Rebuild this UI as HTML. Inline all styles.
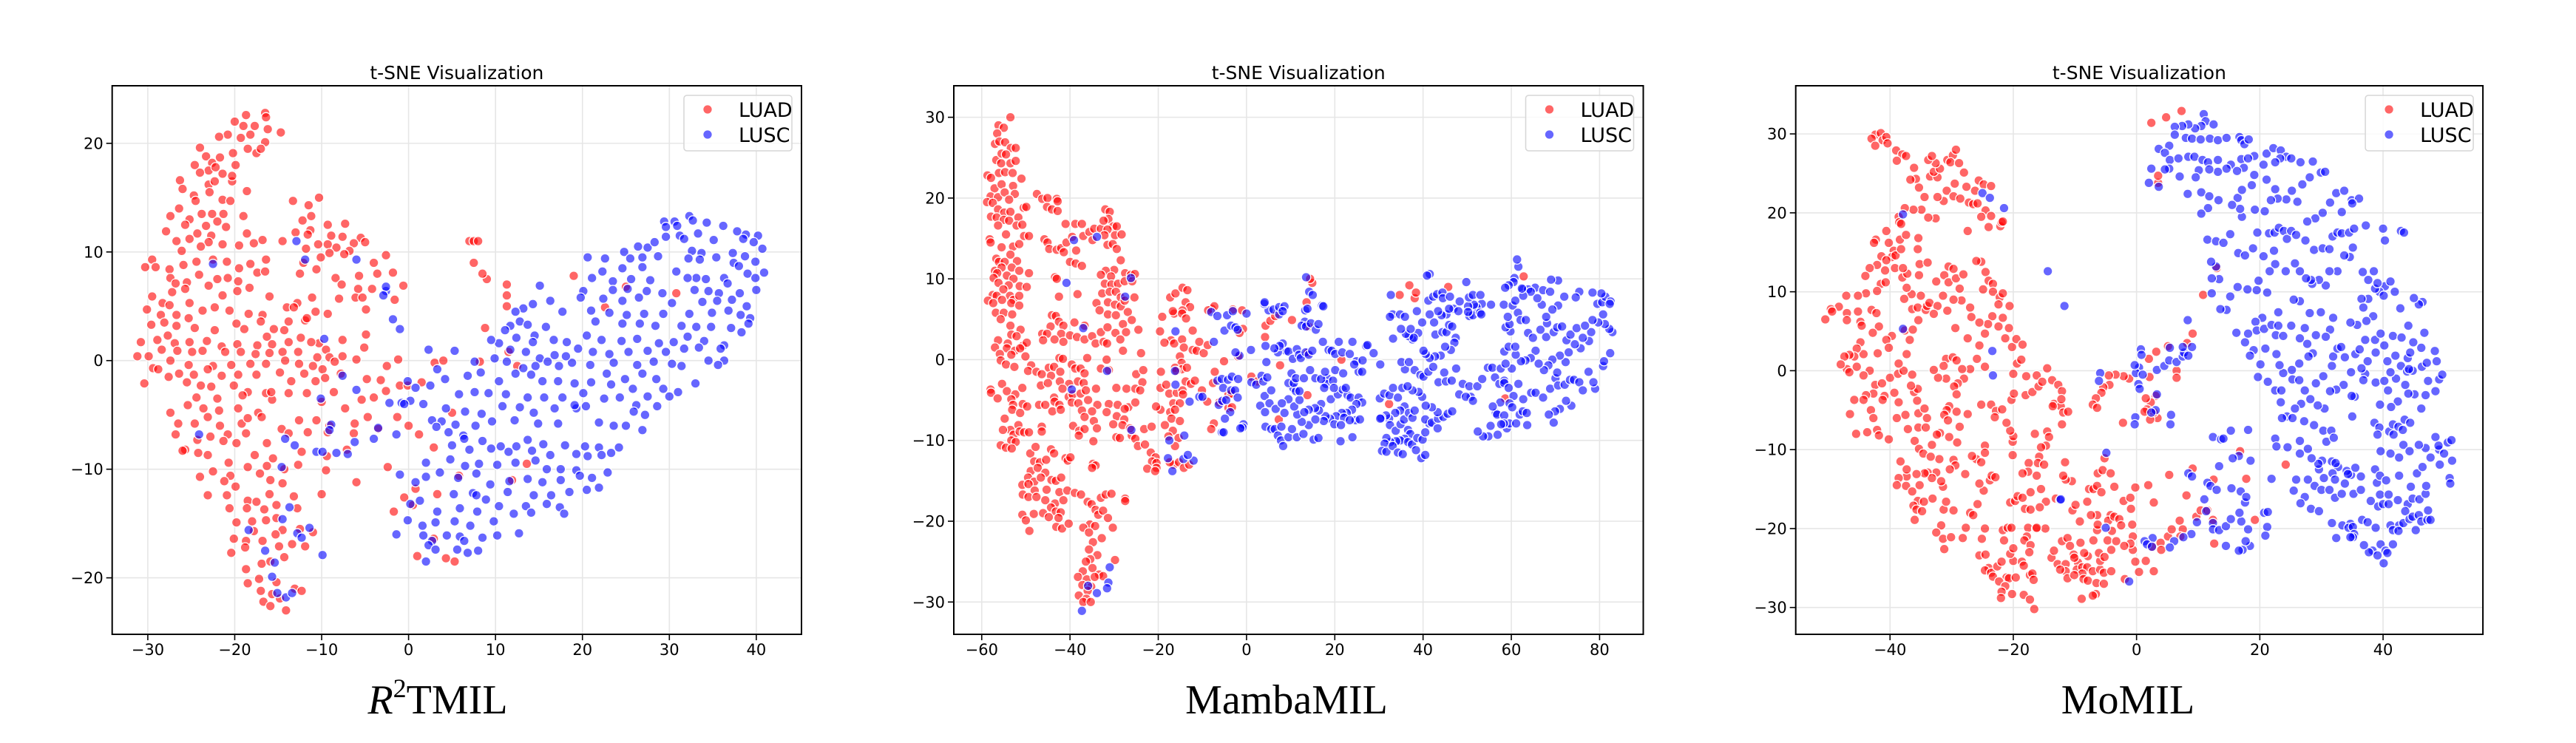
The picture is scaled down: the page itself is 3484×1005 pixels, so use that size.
<!DOCTYPE html>
<html><head><meta charset="utf-8"><style>
html,body{margin:0;padding:0;background:#fff;}
svg{display:block;}
</style></head><body>
<svg id="fig" xmlns="http://www.w3.org/2000/svg" width="3484" height="1005" viewBox="0 0 3484 1005">
<rect x="0" y="0" width="3484" height="1005" fill="#fff"/>
<text x="592" y="965" text-anchor="middle" font-family="Liberation Serif, serif" font-size="56"><tspan font-style="italic">R</tspan><tspan dy="-22" font-size="36">2</tspan><tspan dy="22">TMIL</tspan></text>
<text x="1740" y="965" text-anchor="middle" font-family="Liberation Serif, serif" font-size="56">MambaMIL</text>
<text x="2878" y="965" text-anchor="middle" font-family="Liberation Serif, serif" font-size="56">MoMIL</text>
</svg>
<script>
// ---- Panel 1 (R2TMIL) data ----
const p1Luad = [[-16.5,22.8],[-16.4,22.4],[-18.7,22.6],[-20,22],[-19,21.6],[-17.7,21.6],[-16.2,21.3],[-14.7,21],[-20.8,20.8],[-21.8,20.6],[-19.3,20.5],[-18.2,20.8],[-16.5,20.1],[-18.5,19.5],[-17.5,19.1],[-17,19.5],[-20.2,19.1],[-24,19.6],[-23.3,18.8],[-22.6,18.2],[-21.7,18.7],[-24.6,18],[-23,17.5],[-21.4,17.2],[-22.2,17.8],[-24,17.3],[-26.3,16.6],[-23,16.2],[-22.3,16.5],[-20.3,16.5],[-20.3,17],[-19.9,18],[-26,15.8],[-24.7,15.2],[-22.9,15.5],[-21.4,14.8],[-24.5,14.7],[-26.4,14],[-20.5,14.7],[-18.6,15.6],[-22.6,13.5],[-21.3,13.5],[-23.8,13.5],[-25.2,13],[-27.4,13.3],[-19,13.3],[-22,12.8],[-23.3,12.4],[-25.7,12.5],[-27.9,11.9],[-24.3,11.7],[-21,12.3],[-22.7,11.5],[-25.2,11.2],[-26.7,11],[-23,10.9],[-21.4,10.7],[-19.5,10.6],[-17.8,10.8],[-18.6,11.7],[-16.8,11.1],[-26.1,10.1],[-23.9,10.5],[-25.9,8.8],[-24.4,9.1],[-22.5,9.3],[-20.9,9.1],[-19.5,8.5],[-18.2,8.9],[-16.4,9.3],[-29.5,9.3],[-30.3,8.6],[-29.1,8.6],[-27.5,8.4],[-24.1,7.9],[-22,7.5],[-20.8,7.6],[-19.6,7.3],[-17.4,8.1],[-16.5,8.2],[-27.4,7.6],[-26.8,7.1],[-25.5,7.2],[-23,6.9],[-27.2,6.3],[-25.7,6.6],[-21.4,6],[-19.7,6.4],[-18.3,6.7],[-16,5.9],[-29.5,5.9],[-28.3,5.3],[-27.5,5.1],[-25.2,5.3],[-23.7,4.6],[-22.3,4.9],[-20.6,4.6],[-18.4,4.3],[-16.8,4.2],[-30.1,4.7],[-28.5,4.2],[-26.7,4.2],[-25.3,3.9],[-19.8,3.4],[-17,3.6],[-29.6,3.3],[-28.1,3.5],[-26.7,3.2],[-24.6,3],[-22.3,2.8],[-18.9,2.9],[-16.3,2.2],[-28.9,1.9],[-27.7,2.3],[-26.9,1.6],[-25.2,1.7],[-23.2,1.8],[-21.5,1.3],[-19.7,1.5],[-17.4,1.4],[-15.7,1.5],[-30.8,1.7],[-28.4,1],[-26.6,0.9],[-24.9,0.8],[-23.7,0.9],[-21.1,0.8],[-19.3,0.8],[-17.6,0.6],[-16,0.7],[-31.2,0.4],[-29.9,0.4],[-27.4,0],[-25.3,-0.4],[-22.5,-0.5],[-20.4,-0.4],[-18.2,-0.3],[-16.4,-0.3],[-29.4,-0.7],[-28.8,-0.8],[-26.4,-1.2],[-24.7,-1.3],[-23.1,-0.8],[-21.5,-1.4],[-19.6,-1.3],[-17.5,-1.3],[-27.6,-1.5],[-30.4,-2.1],[-25.5,-2],[-23.9,-2.3],[-22.7,-2.4],[-20.1,-2.3],[-18.5,-2.9],[-16.4,-3],[-24.4,-3.4],[-22,-3.5],[-19.1,-3.2],[-13.3,14.7],[-10.3,15],[-11.5,14.3],[-11.2,13.3],[-12.2,12.9],[-9.3,12.5],[-7.3,12.6],[-11.3,12],[-13,11.8],[-8.9,11.5],[-11.6,11.6],[-7.6,11.4],[-5.5,11.3],[-14.5,11],[-10.4,10.7],[-9.3,10.7],[-6.3,10.8],[-5,10.9],[-11.8,10.3],[-8.3,10.4],[-6.8,10.1],[-7.4,9.8],[-9.1,9.9],[-12.1,9],[-10.1,9.5],[-4,9],[-2.6,9.7],[-12.5,8],[-10.6,8.4],[-8.4,7.6],[-5.7,7.8],[-3.6,8],[-1.8,8.1],[-0.6,6.9],[-7.7,7],[-5.8,6.6],[-4.2,6.6],[-6.1,5.8],[-5.3,5.8],[-11.1,5.8],[-8,5.7],[-12.8,5.3],[-1.6,5.6],[-10.7,4.5],[-14,4.9],[-13.2,4.9],[-4.9,4.7],[-9.3,4.3],[-11.9,3.7],[-13.8,3.6],[-15.5,2.9],[-11.7,3.9],[-14.3,2.8],[-12.4,2.1],[-10.3,1.6],[-7.6,1.9],[-4.9,2.4],[-13.8,1.7],[-11.2,1.7],[-9.5,1],[-5.1,1.2],[-14.5,0.8],[-12.7,0.8],[-10.5,0.3],[-9.1,0.3],[-7.6,0.4],[-6,0.1],[-14.2,0],[-12.6,-0.3],[-11,-0.5],[-9.9,-0.8],[-8.5,-0.1],[-14.8,-1.1],[-12,-1.2],[-9.6,-1.6],[-7.8,-1.2],[-10.7,-1.9],[-8.6,-2.9],[-13.5,-1.9],[-4.8,-1.7],[-3.2,-1.8],[-2.5,-0.5],[-1.2,0.1],[-2.6,-2.8],[-1,-2.3],[-27.4,-4.8],[-25.4,-4.1],[-23.6,-4.4],[-21.8,-4.6],[-19.6,-4.4],[-17.3,-4.8],[-15.7,-3.6],[-15.8,-2.9],[-13.8,-3],[-11.7,-3],[-10,-3.8],[-7.3,-4.4],[-5.4,-3.6],[-4,-3.4],[-26.5,-5.8],[-24.6,-5.8],[-23.1,-5.2],[-21.7,-6],[-19.2,-5.8],[-18.5,-5.3],[-16.9,-5.2],[-14.6,-6.3],[-12.6,-5.5],[-10.6,-5.5],[-9.1,-6],[-6.2,-5.8],[-4.7,-5.2],[-26.8,-6.8],[-24.3,-7.3],[-22.8,-7],[-20.8,-6.8],[-18.7,-6.7],[-16.3,-7.6],[-13.8,-6.7],[-11.6,-6.6],[-9.3,-6.6],[-6.3,-6.7],[-3.5,-6.3],[-25.7,-8.2],[-24.2,-8.5],[-21.3,-7.4],[-19.8,-7.6],[-17.7,-8.7],[-15.6,-9],[-12.3,-8.4],[-9.4,-8.8],[-7.1,-8.2],[-26,-8.3],[-23.1,-8.7],[-20.7,-9.4],[-18.5,-9.8],[-16.3,-9.7],[-14.3,-10],[-12.7,-9.6],[-9.5,-10.1],[-2.4,-9.8],[-24,-10.7],[-22.5,-10.2],[-20.5,-10.6],[-17.1,-10.4],[-15.9,-11],[-14.5,-11.3],[-21.2,-11.1],[-19.9,-11.6],[-16,-12.3],[-13.2,-12.5],[-10,-12.3],[-6,-11.2],[-23.1,-12.4],[-20.9,-12.4],[-18.5,-12.9],[-17.5,-13],[-15.2,-13.3],[-20.6,-13.6],[-18.6,-13.6],[-16.6,-13.7],[-12.8,-13.6],[-15.2,-14.5],[-19.8,-14.9],[-18,-14.8],[-16.4,-14.7],[-14.5,-15.6],[-20.1,-16.4],[-18.7,-16.6],[-17.8,-15.7],[-15.3,-16],[-12.5,-15.5],[-11,-15.8],[-20.4,-17.7],[-18.8,-17.2],[-16.8,-16.6],[-13.4,-16.9],[-14.9,-17.1],[-11.9,-17.1],[-18.7,-19.2],[-16.9,-18.7],[-15.9,-18.5],[-14.3,-18.1],[-17.2,-20.1],[-15.2,-20.4],[-18.5,-20.5],[-17,-21.2],[-15.7,-21.5],[-13.1,-21],[-12.3,-21.2],[-16.7,-22.2],[-15.9,-22.6],[-14.8,-21.9],[-14.1,-23],[7,11],[7.5,11],[8,11],[7.5,9],[9,7.5],[8.5,8],[11.3,7],[11.3,6],[11.3,5],[8.8,3],[11.5,0.8],[8.2,-0.1],[12.5,-0.5],[19,7.8],[22.6,4.9],[25,6.8],[30.8,6.2],[3,-0.2],[4,0],[-0.1,-2.3],[1.2,-6.8],[2.9,-8],[5,-4.8],[13.6,-9.5],[11.9,-11],[3.3,-12.3],[-1.7,-13.9],[-0.5,-12.6],[0.8,-11.8],[0.5,-13.3],[2.9,-16.4],[1,-18],[4.3,-18.2],[5.3,-18.5],[5.8,-10.6],[0,-6],[-1.3,-5.2],[1.5,-2]];
const p1Lusc = [[32.3,13.3],[32.7,12.9],[29.4,12.8],[30.6,12.8],[30.9,12.4],[29.6,12.3],[34.3,12.7],[36.2,12.4],[37.8,11.9],[38.8,11.6],[40.2,11.5],[29.6,11.4],[31.2,11.5],[33.3,11.7],[35.1,11.1],[38.5,11.2],[27.5,10.4],[26.4,10.5],[24.8,10],[28.3,10.9],[31.7,11.2],[32.6,10.1],[33.7,9.9],[37.3,9.9],[39.7,10.9],[40.7,10.3],[25.5,9.4],[22.6,9.4],[20.6,9.5],[26.9,9.5],[28.7,9.6],[32.2,9.4],[33.5,9.3],[35.4,9.5],[38.7,9.6],[39.9,9.1],[37.4,9],[26.9,8.6],[24.6,8.5],[22.3,8.2],[30.8,8.2],[33.1,7.6],[36.3,7.6],[38,8.7],[39,8],[40.9,8.1],[21.1,7.6],[23.5,7.3],[25.6,7.5],[27.8,7.4],[32.1,7.6],[34.2,7.5],[36.7,7.1],[39.9,7.6],[20.1,6.4],[23.5,6.5],[25.2,6.6],[27.4,6.4],[29.2,6.2],[32.9,6.5],[34.5,6.4],[35.7,6.2],[38.1,6.2],[40,6.5],[19.8,5.8],[22.4,5.7],[24.6,5.5],[26.5,5.8],[30.3,5.3],[33.8,5.4],[35.5,5.5],[37.2,5.6],[38.9,5],[21,4.6],[23.1,4.4],[25.1,4.2],[27.1,4.3],[29.3,4.3],[32.3,4.3],[34.9,4.4],[36.8,4.6],[38.2,4.2],[39.3,3.9],[21.5,3.6],[24.6,3.4],[26.6,3.4],[28.4,3.2],[31.4,3.2],[33.1,3.1],[34.8,3.1],[37.1,3],[39.1,3.4],[20.5,2.3],[22.2,1.9],[24.5,1.8],[26.3,2],[28.8,1.6],[30.5,1.7],[32.1,2.2],[34,1.8],[36.3,1.4],[38.3,2.6],[19.5,1.1],[21.2,0.8],[23.1,0.6],[25.3,0.8],[27.5,0.9],[29.6,0.8],[31.7,1.1],[33.4,1.2],[35.9,1.1],[18.8,-0.2],[20.9,-0.4],[23.6,-0.2],[26.3,-0.4],[28.2,-0.1],[30.3,-0.3],[31.4,-0.5],[34.5,0],[36.3,0],[22.8,-1.2],[24.9,-1.7],[26.9,-1.2],[28.5,-1.7],[29.3,-2.6],[31,-2.9],[33,-2.1],[35.6,-0.4],[21,-2],[23.3,-2.2],[25.8,-2.6],[27.5,-3.3],[30,-3.3],[20.1,-3],[22.5,-3.5],[24.3,-3.4],[26.2,-4.1],[28.6,-4.2],[19.3,-4.4],[20.4,-4.2],[25.9,-4.7],[27.2,-5],[23.6,-6],[21.9,-5.7],[25,-6],[26.9,-6.4],[16.3,5.5],[17.7,4.5],[15.1,6.9],[13.2,4.8],[12.3,4.5],[14.3,5.2],[12.8,3.6],[11.7,3.2],[13.7,3.3],[15.8,3.1],[11.1,2.8],[10.4,1.6],[12.4,2.1],[14.5,2.3],[16.7,1.9],[18.2,1.7],[9.5,1.9],[11.7,1],[13.5,0.8],[14.3,1.7],[15.1,0.2],[16.8,0.5],[18.1,0.4],[9.9,0.2],[11.3,-0.1],[13.2,-0.7],[14.6,-0.5],[16,-0.1],[17.3,-0.5],[7.6,-0.1],[5.3,0.9],[2.3,1],[3.3,-0.8],[6.8,-1.4],[8.3,-1.1],[10.4,-1.9],[12.3,-1.2],[14.1,-1.3],[15.4,-1.9],[17.2,-1.9],[19.1,-2.1],[0.8,-2.5],[2.5,-2.3],[4.2,-1.7],[5.8,-3.1],[7.6,-2.9],[9.2,-3],[11.2,-3.1],[13.7,-3.4],[15.6,-3.4],[17.7,-3.4],[-0.8,-3.9],[0.2,-3.7],[1.7,-4],[4.3,-4.4],[6.5,-4.7],[8.4,-4.9],[10.8,-4.2],[12.8,-4.3],[14.4,-4.8],[16.8,-4.4],[19.1,-4.1],[2.7,-5.5],[3.8,-5.6],[5.4,-5.9],[7.7,-6],[9.6,-5.6],[12.2,-5.5],[14.9,-5.8],[17.2,-5.8],[3.2,-6.1],[4.6,-6.6],[6.3,-6.9],[8.5,-7.4],[10.6,-7.9],[12.4,-7.9],[13.7,-7.3],[15.5,-7.7],[18,-7.8],[20.3,-7.9],[21.9,-8],[23.3,-8.5],[5,-7.8],[7,-8.2],[9.5,-8.1],[11.5,-8.4],[14.2,-8.3],[16.3,-8.7],[19.3,-8.6],[20.6,-8.8],[22.2,-8.7],[24.2,-8],[2,-9.4],[4.8,-9.1],[6.5,-9.7],[8.1,-9.5],[10.2,-9.6],[12.3,-9.4],[14.6,-9.2],[15.9,-10],[17.5,-10],[19.3,-10.1],[21.1,-10.8],[22.9,-10.3],[3.6,-10.3],[5.7,-10.8],[7.8,-10.4],[9.4,-11.4],[11.6,-11.1],[13.7,-10.9],[15.4,-11.2],[17.5,-11],[19.7,-10.6],[20.5,-11.9],[21.9,-11.7],[-1,-10.5],[0.8,-11.2],[2,-10.7],[5.2,-12.3],[7.4,-12.2],[8.9,-12.8],[11.4,-12.1],[14.4,-12.4],[16.4,-12.4],[18.5,-12.1],[0.2,-13.2],[1.3,-12.9],[3.3,-13.9],[5.9,-13.6],[7.9,-13.9],[10.4,-13.4],[13.5,-13.4],[15.9,-13.2],[17.4,-13.5],[-0.1,-14.7],[1.6,-15.2],[3.1,-14.9],[5.3,-14.8],[7.1,-15.2],[9.8,-14.8],[12.1,-14.1],[14.1,-14],[17.9,-14.1],[-1.4,-16],[1.7,-16.1],[2.7,-16.6],[4.4,-16.1],[5.9,-16.2],[6.4,-16.6],[8.5,-16.3],[10.2,-16.1],[12.7,-15.9],[2.3,-17],[3.1,-17.4],[5.6,-17.4],[6.8,-17.7],[8,-17.5],[2,-18.5],[7.8,-12.4],[6.4,-7.2],[-22.5,8.9],[-12.9,11],[-11.9,9.3],[-6,9.3],[-2.6,6.4],[-2.6,6.8],[-2.9,6],[-1.8,3.8],[-1,2.9],[-9.7,2],[-7.6,-1.4],[-6,-2.7],[-10.1,-3.5],[-8.9,-5.9],[-9.1,-6.4],[-4,-7.2],[-3.5,-6.2],[-1.4,-6.8],[-2.2,-3.9],[-0.5,-4],[-0.1,-1.9],[-14.2,-7.2],[-13.1,-7.8],[-24.1,-6.8],[-7,-8.6],[-6.2,-7.5],[-9.9,-17.9],[-12.8,-15.9],[-14.5,-14.6],[-13.7,-13.5],[-12.3,-16.3],[-11.4,-15.4],[-14.6,-9.8],[-18.4,-15.6],[-16.5,-17.5],[-15.4,-18.6],[-15.7,-19.9],[-15.1,-21.4],[-14.1,-21.8],[-13.4,-21.4],[-10.6,-8.4],[-9.9,-8.4],[-8.3,-8.5]];
const p1XTicks = [-30,-20,-10,0,10,20,30,40];
const p1YTicks = [-20,-10,0,10,20];

// ---- Panel 2 (MambaMIL) data ----
const p2Luad = [[-53.5,30],[-56.2,29],[-55,28.7],[-56.5,28],[-57,26.7],[-56,27],[-54.7,26.9],[-53.4,26.2],[-52.3,26.2],[-56.7,24.7],[-55.5,25.5],[-54.5,25.4],[-53.5,24.3],[-52.3,24.6],[-55.6,24.3],[-58.7,22.8],[-57.9,22.5],[-56.1,23.1],[-54.7,23.2],[-53,23.1],[-51,22.4],[-57.1,21.2],[-55.5,21.7],[-52.9,21.5],[-58,20.2],[-56.3,20.1],[-54.8,20.7],[-52.5,20.5],[-58.8,19.5],[-57.5,19.4],[-53.8,19.8],[-56.3,18.6],[-54.9,18.2],[-53.5,18.3],[-57.9,17.7],[-56.6,17.6],[-55,17.3],[-53.8,17.2],[-51.7,17.6],[-50.5,18.8],[-49.9,18.9],[-56.3,16.6],[-52.1,16.6],[-50.8,16.7],[-54.5,15.5],[-50.4,15.3],[-49.3,15.3],[-58.2,14.9],[-58,14.5],[-55.5,13.9],[-52.9,14],[-51.5,14.3],[-56.7,12.5],[-56.1,12.1],[-54.8,12.1],[-52,12.2],[-53.5,13],[-57,11],[-55.5,11.4],[-53.2,11.4],[-51.5,11],[-49.3,10.7],[-56.5,10.7],[-57.3,10.1],[-54.3,10.4],[-52.8,10],[-51.4,9.1],[-49.8,9],[-56.2,9.5],[-53.9,9.2],[-55.1,8.7],[-57.5,8],[-56.6,7.9],[-53.6,7.9],[-52.8,7.4],[-51.5,7.9],[-58.6,7.3],[-57.4,7],[-55.4,7.4],[-53.3,7],[-51.5,6.7],[-56.8,5.8],[-55,5.8],[-53.1,5.6],[-55.7,5],[-53.5,4.2],[-51.2,3.7],[-53.3,3.1],[-52.1,2.9],[-56.3,2.4],[-54.1,2],[-50.7,1.7],[-49.8,2.1],[-57,1.5],[-54.3,1.4],[-52.5,1.1],[-51.3,1.4],[-55.9,0.7],[-53.3,0.6],[-50.1,0.4],[-55.7,-0.1],[-54.5,-0.6],[-52.6,-0.9],[-48.8,-0.7],[-49.5,-1.4],[-58,-3.7],[-57.9,-4.1],[-55.4,-3],[-54.3,-3.9],[-52.4,-4.3],[-50.8,-3.5],[-56.4,-4.8],[-53.3,-4.9],[-52.9,-5.6],[-50.7,-5.5],[-53.1,-6.2],[-51.3,-6.6],[-49.7,-5.8],[-54.8,-7.3],[-53.5,-8.7],[-51.7,-8.1],[-55.2,-8.7],[-52.8,-9.3],[-51.4,-8.9],[-53.3,-10],[-52.3,-10.2],[-55.7,-10.6],[-54.5,-10.9],[-53.2,-11],[-50.4,-9],[-49.3,-9],[-47.5,20.5],[-46.3,19.9],[-45.1,20],[-43,19.9],[-42.8,19.6],[-45.2,18.9],[-44.1,18.6],[-42.8,18.4],[-38.8,16.8],[-37.3,16.8],[-41,16.8],[-45.8,14.9],[-45.1,14.5],[-44.7,13.7],[-43,13.6],[-42,13.8],[-40.8,14.5],[-39.5,15.2],[-37,15.3],[-35.6,15.8],[-34.5,16.2],[-33,16.2],[-38.6,13.5],[-41.4,13.3],[-40,12.1],[-38.7,11.9],[-37.3,11.6],[-32,18.6],[-31,18.3],[-31.3,17.4],[-30.2,16.5],[-29.4,16.5],[-32.4,17.2],[-31.5,16.1],[-29.8,15.4],[-28.3,15.5],[-31.5,14.2],[-30.3,14.3],[-32.2,15.4],[-34.9,14.8],[-29.4,13.7],[-28.5,12.3],[-30,11.1],[-31.9,11],[-33,10.5],[-30.7,10.3],[-27.5,10.7],[-26.2,10.5],[-25.3,10.6],[-32.1,9.4],[-30.6,9.3],[-29.1,9.4],[-27.6,9.7],[-25.9,9.7],[-32.7,8.2],[-31,8.4],[-29.6,8.4],[-28.5,7.7],[-25.4,7.7],[-43.4,10.2],[-43,10],[-42.5,7.8],[-38.3,8.1],[-31.4,7.1],[-29.8,6.8],[-28.5,6.6],[-27.6,7.3],[-34,7],[-33.3,6.1],[-31.4,5.6],[-29.6,5.5],[-26.9,5.9],[-26,4.9],[-44.1,5.5],[-43.2,5.4],[-42.5,4.7],[-41.5,4.2],[-39,4.6],[-36.7,4.2],[-44.4,4.1],[-46.3,3.2],[-45.2,3.2],[-42,3.2],[-40,3],[-38.4,2.8],[-36.7,2.5],[-35,2.9],[-33,3.4],[-31.5,4],[-29.7,3.3],[-28,4.4],[-27.3,3.4],[-24.5,3.7],[-46.1,2.4],[-43.5,2.5],[-41.5,2.2],[-34.2,2],[-32.4,2.2],[-31.6,2],[-28.6,2.5],[-28,1.1],[-23.9,0.8],[-42.4,0.2],[-41.6,0.1],[-36.1,0.2],[-31.7,0],[-44.8,-1],[-43.6,-0.9],[-42.2,-1.5],[-39.6,-0.6],[-38.8,-1.1],[-37.6,-1.1],[-36.7,-1.7],[-33,-1.1],[-31.2,-1.3],[-47.6,-1.5],[-46.4,-1.8],[-44.3,-2],[-42.3,-2.7],[-40.2,-3],[-38.2,-2.7],[-36.9,-2.9],[-25,-1.8],[-23.4,-1.3],[-46.6,-3.2],[-45,-2.9],[-43.6,-4.7],[-41.7,-3.6],[-40.3,-4.6],[-39.4,-4.3],[-37.6,-4.2],[-36.4,-3.8],[-34.1,-3.6],[-29.5,-3.5],[-27.2,-3.6],[-25.2,-3.6],[-23.6,-2.8],[-24.1,-3.8],[-47,-5.6],[-45.6,-5.6],[-43.5,-5.2],[-42.4,-5.6],[-39.6,-5.3],[-38.1,-5.4],[-35.9,-5],[-33.8,-5.6],[-31.2,-5.5],[-29.2,-5.6],[-26.8,-5.9],[-25.2,-5.3],[-44,-6.4],[-42.1,-6.2],[-37.3,-6.3],[-35,-6.4],[-31.7,-6.5],[-27.6,-6.1],[-29.4,-7],[-27.7,-7.4],[-36.7,-7.1],[-34.6,-7.6],[-46.4,-8.3],[-46.4,-8.9],[-39.3,-8.2],[-37.9,-8.8],[-36.7,-8.6],[-33.9,-8.5],[-30.2,-8],[-28.1,-8.1],[-38,-9.4],[-34.7,-10.1],[-29.5,-9.6],[-28.7,-9.7],[-26,-9.4],[-41,-12.2],[-40.5,-12.5],[-39.9,-12.1],[-34.8,-12.9],[-34.2,-13.1],[-35,-13.4],[-49,-11.6],[-47.8,-10.8],[-44.3,-11.1],[-43.6,-11.6],[-48.1,-12.6],[-46.8,-12.7],[-45.4,-12.4],[-48.9,-13.8],[-47.3,-13.4],[-45.6,-14],[-49.5,-14.6],[-48.1,-15.1],[-46.6,-14.6],[-44.2,-14.9],[-43.2,-15],[-42,-14.6],[-50.8,-15.5],[-49.4,-15.4],[-48,-16.2],[-45.3,-16.1],[-42.4,-16.4],[-40.6,-16.2],[-50.7,-16.7],[-49.4,-17],[-47.6,-17],[-45.6,-17.4],[-43.4,-17.8],[-41.5,-17.4],[-44.3,-18.3],[-43.2,-18.8],[-42.1,-18.9],[-48.2,-19.1],[-46.1,-19],[-44.8,-19.5],[-42.6,-19.6],[-50.8,-19.2],[-50,-19.9],[-49.2,-21.2],[-43.1,-20.7],[-41.8,-20.9],[-40.3,-20.3],[-38.9,-16.5],[-37.5,-16.7],[-36,-17.6],[-35.1,-17.9],[-34.2,-18.6],[-33,-17.1],[-31.9,-16.7],[-30.6,-16.6],[-33.6,-19.2],[-32.5,-18.7],[-31.4,-19.6],[-35.5,-20.4],[-34.3,-20.6],[-37,-20.8],[-35.7,-21.4],[-30.3,-20.8],[-32.8,-22.1],[-34.8,-22.6],[-35.7,-23.5],[-33.8,-24.2],[-35.4,-24.7],[-36.4,-25],[-34.9,-25.8],[-33.4,-26.6],[-32.5,-26.8],[-37.1,-26.2],[-38.2,-26.9],[-36.2,-27.2],[-34.4,-26.9],[-35.2,-28.1],[-37.2,-27.9],[-36,-28.6],[-38,-29.2],[-36.3,-29.6],[-37,-30],[-35.3,-30],[-29.8,-24.8],[-27.5,-17.2],[-27.5,-17.5],[-26.4,-8.5],[-25.2,-9.8],[-23.2,-8.6],[-21.5,-8.3],[-24.6,-10.7],[-23,-10.5],[-21.7,-11.5],[-20.6,-12.1],[-21.4,-12.6],[-20.4,-12.8],[-20.4,-13.4],[-22.5,-13.5],[-20.7,-13.8],[-16.5,-13],[-15.3,-12.7],[-14.2,-13.4],[-13,-13],[-17.4,-12.7],[-19.6,3.5],[-17.1,2.4],[-18.6,2.1],[-16.4,2],[-16.4,5.7],[-16.7,6],[-19.1,5.3],[-17.3,7.7],[-16.1,8.2],[-14.5,8.9],[-13.4,8.6],[-13.8,7.1],[-12.8,6.5],[-14.5,6.1],[-14.6,5.7],[-13.7,5.1],[-12.2,3.6],[-14.6,2.5],[-14.2,1.5],[-12.2,1.2],[-11.3,1.1],[-10.7,2.2],[-15.1,0.4],[-14.7,-0.4],[-16.2,-1],[-14.7,-1.2],[-13.5,-1],[-13.8,-2.7],[-15.9,-1.4],[-19.4,-1.5],[-19.5,-3.5],[-18.2,-3.1],[-17.5,-4.2],[-15.8,-4.1],[-14.5,-3.8],[-14.4,-4.3],[-12.6,-3],[-11.7,-2.6],[-16.6,-5.4],[-15.1,-5.4],[-17.3,-6.5],[-16.2,-6.2],[-17,-7.3],[-15.1,-7.6],[-19.5,-6.2],[-20.5,-5.8],[-18.5,-8.1],[-16.7,-8.8],[-17.7,-9.5],[-15.4,-9.7],[-16.2,-10.7],[-10.1,-3.8],[-8.9,-5.2],[-9.7,0.8],[-8.8,1.8],[-7.9,6.3],[-7.3,6.6],[-8.7,6.1],[-7.2,-1.5],[-7.6,-2.9],[-5.1,-0.2],[-6.2,-5.3],[-4.1,-4.3],[-3.4,-4.2],[-4.1,-6],[-3.3,-5.9],[-7.4,-7.9],[-8,-8.6],[-3.1,6.2],[-1,6.1],[-0.8,3.8],[-1.6,3.3],[-1.9,0.4],[1.1,-2.1],[2.4,-2.7],[4.3,4.2],[5.4,4.8],[4.2,2.8],[6.5,5.4],[7.3,-7.4],[7.6,-0.7],[10.3,4.9],[13.6,7.1],[14.9,9.5],[14.4,10],[14,4.1],[13.8,0.8],[13.8,-4.4],[21.5,0],[32.3,-5.5],[34.7,8],[36.9,9.2],[38.1,7.6],[38.4,8.3],[45.7,9],[58.6,-4.8],[62.8,10.3]];
const p2Lusc = [[-7.4,2.2],[-8,5.9],[-6.6,5.4],[-5,3.6],[-4.4,5.5],[-3.5,4.2],[-3.1,6],[-2.5,4],[-2,3.7],[0,5.7],[1,1.2],[-1.6,0.5],[-2.5,0.9],[-6.6,-2.6],[-5.6,-2.4],[-4.2,-2.5],[-3.3,-2.1],[-1.9,-2.4],[-5.3,-3.5],[-3.5,-3.8],[-2.6,-3.8],[-6.3,-5.6],[-5.5,-5.1],[-4.6,-5],[-2,-4.7],[-3.7,-6.5],[-4.9,-7.3],[-5.6,-9],[-5.2,-9],[-0.7,-8],[-0.9,-8.4],[-1.4,-8.5],[1.1,-2.8],[2.2,-3.1],[3.4,-2],[3.8,-2.7],[4.7,-2.2],[4.1,-4.5],[5.6,-3.8],[3.1,-5.7],[4.2,-6.5],[5.2,-5.4],[6.6,-6.1],[4.3,-8.3],[5.6,-8.6],[6.4,-8.6],[7.9,-8.3],[7.1,-9.4],[7.8,-10],[8.3,-10.7],[9.5,-9.6],[10.3,-8.6],[11.4,-9.6],[12.9,-9.2],[14.1,-8.1],[15.2,-9.9],[12.5,-7.7],[11.5,-6.8],[10.8,-5.8],[9.5,-4.9],[8,-5.4],[8.6,-6.6],[10.6,-3.5],[11.2,-3.9],[9.5,-2.9],[10.2,-1.7],[8.9,1.1],[8.2,2],[7.1,0.9],[7.5,1.7],[6.3,1.4],[4.3,1.7],[4.5,-0.3],[5,6.1],[6.1,6.2],[4,6.9],[4.1,7.1],[7.4,5.6],[7.4,6.5],[8.6,6.6],[8.2,6],[9.5,1],[10.5,0.1],[11.4,1.3],[11.9,0.6],[12.3,0.2],[13.4,0.9],[14.1,0.6],[14.9,1.1],[13.2,4.7],[12.5,4.2],[13.5,4.1],[14.6,4.5],[15.7,3.7],[16.3,4.4],[13.3,6.1],[13.8,6.3],[13.5,10.2],[14.2,8.4],[15,8],[17.1,6.7],[17.4,6.6],[17.3,2.2],[18.6,1.2],[19.3,1.1],[20.1,0.7],[20.9,2.2],[21.7,0.9],[24,2.2],[23.4,0.7],[24.9,-0.2],[26.3,-0.1],[27.1,1.7],[25.4,-1.5],[26.2,-1.5],[20.1,-1.3],[18.3,-2.3],[18,-3],[19.6,-2.6],[17.6,-3.5],[19.1,-4.9],[20.7,-4.3],[21.8,-3.7],[22.9,-4.4],[23.6,-4.7],[25.4,-4.7],[26.2,-5.3],[24.9,-5.5],[23.9,-6.2],[22.7,-6.6],[21.6,-6.6],[20.3,-7],[18.9,-7.3],[17.9,-7],[17.5,-7.6],[16.9,-5.5],[15.6,-7.4],[16.4,-6.3],[22.1,-7.2],[24.7,-7.5],[23.4,-7.5],[25.7,-7.4],[19.9,-8],[21.4,-8.1],[24,-9.6],[21.3,-10.1],[16.3,-9.7],[15.5,-6],[14.1,-6.2],[13.1,-6.5],[12,-5],[12,-3.9],[10.7,-2.9],[11.2,-2.3],[13,-2.3],[14.4,-1.3],[15.6,-2.3],[16.9,-2.4],[17.8,-1.5],[19.8,-3.5],[30.3,-0.6],[30.2,-4.8],[31.2,-4.2],[32.4,-4.4],[33.2,-3.5],[34.3,-4.7],[35.3,-3.5],[35.8,-5.8],[34.8,-6.3],[33.7,-6.6],[32.3,-7.3],[31.6,-6.9],[30.5,-7.2],[30.3,-7.3],[32.5,-8.1],[33.8,-8.8],[34.9,-8],[35.7,-7.4],[36.8,-6.6],[37.6,-7.2],[38.1,-6.3],[36.6,-8.7],[37.1,-9.2],[35.8,-9.8],[34.8,-10],[33.9,-10.1],[32.6,-10.2],[31.7,-9.7],[31.3,-10.4],[30.7,-11.3],[31.7,-11.4],[33.1,-10.7],[34.3,-11.5],[35.4,-11.7],[36.6,-10.2],[37.5,-10.5],[38.7,-9.7],[38.4,-11.2],[39.6,-12.2],[40.5,-11.8],[39.9,-9.9],[40.5,-9],[41.4,-7.9],[40.5,-7.4],[42,-7.8],[43.3,-8.5],[43.4,-7.3],[44.6,-7.1],[45.6,-6.7],[46.6,-6.4],[43.3,-6.5],[42,-5.9],[40.6,-5.7],[39.8,-4.6],[39,-4],[37.6,-3.8],[36.5,-3.3],[35.9,-1.2],[35.1,-0.3],[36.8,-0.3],[38.1,-1.3],[39.4,-1.9],[40.1,-2.1],[41.2,-1.5],[42.3,-0.9],[43.5,-2.8],[44.8,-1.6],[45.2,-2.7],[46.5,-2.6],[47.5,-1.1],[48.2,-4.3],[49,-3],[50.5,-3.3],[50.8,-4.6],[49.7,-4.6],[51.3,-5.1],[52.3,-3.3],[53.4,-2.4],[54.7,-1],[55.7,-1],[57.6,-1.1],[56.3,-2.2],[57.3,-3],[58.4,-2.6],[58.4,-2.9],[59.4,-3.5],[61.6,-3],[60.5,-4.5],[59.6,-5.4],[57.5,-5.3],[56.5,-6.6],[55.8,-5.8],[56.8,-6.8],[58.4,-6.9],[59,-8.5],[59.6,-7.9],[60.2,-5.9],[61.9,-6.8],[62.6,-6.4],[63.5,-6.6],[63.6,-8.1],[61.1,-7.9],[58.3,-7.9],[57.7,-8],[56.9,-9.3],[54.8,-9.5],[53.6,-9.5],[52.4,-8.9],[55.3,-8.2],[62.7,-4.9],[64.5,-4.1],[65.5,-4.1],[67.2,-4.7],[68.8,-3.6],[70,-2.3],[70.6,-3.2],[72.1,-3.1],[73.3,-2.5],[74.2,-2.5],[75.4,-2.8],[77.5,-1.5],[76.2,-3.8],[73.6,-5.7],[72.4,-5.1],[71,-6.1],[69.9,-6.4],[68.5,-6.8],[69.6,-7.8],[79,-3.6],[78.6,-2.8],[80.8,-0.8],[81,-0.2],[82.4,0.8],[82.9,3.4],[82.2,3.8],[81.2,4.4],[80.8,5.6],[79.7,4.6],[78.1,3.4],[77.6,2.3],[76.2,2.7],[75.7,1.4],[74.4,1.9],[73,0.9],[72.3,-0.3],[71,0.5],[70.4,-1.6],[69.3,0],[68.4,-0.7],[67.4,-1.3],[66.2,-0.5],[65.5,1.1],[64.4,0.2],[63.2,-0.1],[62.2,-0.2],[61,0.6],[60.1,-1.1],[58.7,-0.5],[58.4,1],[59.4,1.6],[60.9,1.6],[59.8,3.5],[58.7,4],[59.6,4.4],[58.3,6.8],[59.2,5.3],[60.3,6.7],[60.9,7.3],[61.5,5.8],[62.1,4.9],[63.3,4.9],[63.8,3.3],[64.9,2.7],[66.6,3.7],[67.9,2.8],[68.1,4.5],[69.6,3.4],[70.4,4],[71.5,4.1],[72.5,2.4],[73.4,3.1],[74.8,3.9],[76.7,4.2],[78.4,4.9],[79.5,6.9],[80.6,7.1],[81.3,7.8],[82.5,7.2],[82.3,6.9],[80.4,8.2],[78.4,8.3],[75.4,8.4],[74.6,7.7],[72,7.8],[70.6,6.7],[69.3,6.2],[67.9,5.3],[66.9,6.8],[65.9,7.6],[65.4,8.9],[67.2,8.6],[68.8,8.4],[70.6,9.8],[69,9.9],[62.6,8.7],[63.8,8.7],[64.4,8.4],[62.7,7.9],[61.6,11.5],[61.3,12.4],[60.7,10.1],[60.5,9.6],[59.4,9.2],[58.6,8.9],[62.4,8.8],[55.4,6.8],[53.3,6.9],[52.1,6.5],[51.5,6.8],[50.2,6.6],[50.5,5.4],[51.3,5.5],[52.9,5.8],[53.2,5.6],[50.4,7.7],[51.3,8],[53,8],[49.8,9.6],[48.3,7.2],[46.9,6.3],[45.3,5.6],[44.2,5.5],[43.4,6],[42.5,4.6],[42.8,3.1],[44.4,3.4],[45.3,3.4],[45.9,4.3],[46.6,4.1],[47.4,2.7],[47.1,2.1],[46.3,1.2],[45,1.6],[44,0.5],[42.7,0.4],[41.5,0.2],[40.6,0.7],[40.1,1.1],[38.9,3.3],[37.6,2.5],[36.8,2.9],[36.1,3.2],[35,3.8],[33.2,2.6],[33.1,5.6],[32.5,5.3],[32.7,8],[34.8,5.6],[35.9,5.3],[37.2,3.8],[37.9,2.7],[38.6,6],[39.8,4.6],[41.5,5.6],[41.2,7.3],[41.5,10.6],[40.9,10.4],[42.3,7.8],[43.2,8.1],[44.4,8.3],[44.5,7.6],[46.1,7.8],[45.9,6.3],[48,6],[50.2,5.9],[28.8,0.8],[27.4,1.8],[24.4,-0.6],[21.9,-1.7],[22.5,-3.5],[-17.5,-10],[-17.8,-12.2],[-16.8,-13.8],[-14.3,-12.3],[-12,-12.5],[-13.3,-11.8],[-16.1,-3.1],[-16.2,-1.4],[-16.1,3.5],[-12.9,-5.2],[-14.1,-9.4],[-10.7,-4.6],[-10,-4.6],[-39.1,14.8],[-33.9,15.2],[-26.2,10.1],[-27.5,7.8],[-40.8,9.5],[-37,3.9],[-31.6,-1.4],[-39.6,-3.7],[-26.1,-8.7],[-31,-25.7],[-31.3,-27.6],[-33.9,-28.9],[-35.9,-28],[-37.3,-31.1],[-31.6,-28.3]];
const p2XTicks = [-60,-40,-20,0,20,40,60,80];
const p2YTicks = [-30,-20,-10,0,10,20,30];

// ---- Panel 3 (MoMIL) data ----
const p3Luad = [[-42.4,29.9],[-41.5,30.1],[-43,29.4],[-41.2,29.2],[-40.6,29.6],[-42.4,28.5],[-40.4,28.8],[-39,27.9],[-38,27.4],[-37.4,27.2],[-38.9,26.6],[-36.1,25.7],[-35.8,24.3],[-36.7,24.2],[-35.3,23.2],[-34.4,22],[-33.5,24.6],[-32.3,24.5],[-32.9,25.2],[-31.9,25.6],[-32.6,26.3],[-33.8,26.7],[-33.2,27.2],[-30.7,26.7],[-29.8,27.3],[-29.3,28],[-30.2,26.4],[-28.8,26.3],[-28,25.1],[-29.5,23.7],[-27.6,23.3],[-25.6,24.1],[-24.8,23.6],[-23.6,23.4],[-26.2,22.8],[-30.8,22.8],[-31.3,21.5],[-32.3,22],[-29.7,22.1],[-28.6,21.8],[-27.2,21.3],[-26.5,21.1],[-25.8,21.2],[-24.5,20.3],[-23.6,19.6],[-25.2,19.5],[-24,18.2],[-22.1,18.3],[-21.9,18.8],[-21.7,18.9],[-27.4,17.7],[-32.6,19.3],[-33.8,19.4],[-34.9,20.4],[-36.2,20.4],[-37.6,20.6],[-38.6,19.5],[-38.5,18.8],[-38.2,18.6],[-40.6,17.7],[-42.3,16.6],[-42.6,16.2],[-40.2,16.2],[-39.4,15.2],[-39.7,14.4],[-41.4,14.5],[-40.6,14],[-39.2,13],[-40.8,12.7],[-42.1,13.4],[-43.3,13],[-44,12],[-41.5,11],[-40.7,11.2],[-42.1,10.1],[-43.9,9.8],[-45.2,9.5],[-47.1,9.5],[-48.3,8.1],[-49.6,7.8],[-49.4,7.5],[-50.5,6.5],[-47,7.3],[-47,6.4],[-45.2,7.5],[-44.8,6.2],[-44.6,5.7],[-43,7.7],[-42.2,7.3],[-41.8,5.6],[-42.8,4.8],[-39.7,4.4],[-40.6,3.9],[-40.2,2.9],[-42,2.2],[-44.3,2.1],[-44.8,3.6],[-45.4,2.8],[-45.8,1.8],[-46.6,2],[-47.4,1.8],[-47,0.2],[-48,0.8],[-46.6,-0.2],[-45.4,0.5],[-43.3,0],[-44.3,-0.6],[-42.4,-1.8],[-41.3,-1.6],[-40,-0.9],[-38.7,-0.4],[-39.3,-2.8],[-40.9,-3.2],[-41.2,-3.7],[-42.7,-2.9],[-43.9,-3.1],[-44.3,-3.7],[-45.8,-3.7],[-46.5,-5.5],[-43.1,-5],[-42.7,-6],[-43.7,-7.8],[-45.5,-8],[-42.1,-7.5],[-41.8,-8.2],[-40.2,-8.7],[-38.9,-6],[-38.6,-4],[-37.5,-5.6],[-37.1,-7.4],[-36,-8.9],[-35.3,-9.9],[-35.4,-7.2],[-34,-6],[-34.2,-7.2],[-35.4,-5.4],[-34.4,-4.8],[-35.6,-3.8],[-36.1,-2.7],[-35.5,-2.3],[-36.6,-1.9],[-36.4,-0.5],[-37.8,0],[-37.3,2.1],[-38.6,0.9],[-36.8,3.9],[-37.6,5.1],[-36.3,5.2],[-35.4,6.4],[-36.4,7.8],[-35.5,8],[-34.2,7.7],[-34,8.2],[-33.6,8.6],[-36.5,9.7],[-35,9.5],[-37.7,9.1],[-37.3,10.5],[-38,11.8],[-37.2,12.3],[-37.9,13],[-39.1,14.6],[-38.2,15.4],[-38.4,16.6],[-37.4,17.2],[-35.4,16.8],[-35.5,15.4],[-35.2,13.5],[-35.3,12.1],[-33.9,13.7],[-32.5,11.3],[-31.2,12.1],[-30.5,13.2],[-29.7,12.9],[-30.5,11.2],[-29.3,11.7],[-28.7,10.4],[-28.1,12.2],[-25.2,13.8],[-26,13.9],[-24.5,12.5],[-24,11.4],[-23.3,11],[-24.9,10.3],[-23.3,10],[-22.2,9.3],[-22.4,8.4],[-21.7,9.8],[-20.6,8.2],[-23.4,6.9],[-21.7,6.7],[-24.1,5.9],[-20.7,5.4],[-22.4,5.6],[-21.3,4.1],[-24.6,4.7],[-25.5,6.1],[-26.8,6.8],[-27,8],[-28.4,8.9],[-29.7,9],[-31.4,9.5],[-32.3,8.2],[-30.7,7.6],[-32.9,7.2],[-29.4,5.4],[-27.4,4.1],[-25.5,3.2],[-25.9,1.5],[-24.6,0.5],[-27,0.2],[-28.3,0.2],[-28,-1],[-29,-1.6],[-29.6,-2],[-29.2,-3],[-30.9,-1],[-32.2,-0.9],[-32.9,0.1],[-30.9,1.5],[-31.3,0.6],[-29.8,1.7],[-29.2,1.3],[-30.4,-4.5],[-30.8,-5],[-31.2,-5.6],[-30.6,-6.3],[-29.2,-5.2],[-28.7,-7.1],[-31.9,-7.9],[-32.4,-8.1],[-33.2,-9.4],[-30.4,-8.4],[-29.1,-9.1],[-27.4,-5.5],[-25.2,-4.3],[-23.6,-4.3],[-22.8,-5.1],[-21.8,-4.9],[-20.3,-3.7],[-19.9,-2.9],[-20,-0.4],[-19.4,0.9],[-20.2,3],[-19.5,4],[-18.5,3.3],[-18.7,1.4],[-17.9,-0.7],[-18,-3.1],[-16.9,-2.7],[-15.9,-2],[-16.2,-0.6],[-15.3,-1.4],[-14.5,0.3],[-13.7,-1.2],[-12.7,-1.8],[-12.1,-2.6],[-13.4,-4.2],[-12.3,-4.5],[-11.9,-5.3],[-11.1,-5.2],[-12.2,-3.6],[-13.6,-4.5],[-12.1,-6.8],[-14.5,-7.7],[-14.2,-8.4],[-14.7,-9.5],[-15.5,-9.7],[-16.5,-8],[-15.8,-10.9],[-16,-11.7],[-15,-11.9],[-17.5,-11.7],[-17.6,-12.8],[-18.5,-13],[-20.1,-10.7],[-20.1,-9],[-20,-8.3],[-20.5,-7.6],[-21.1,-6.6],[-23,-5.9],[-24.6,-9.5],[-24.6,-10.4],[-26,-11.2],[-25.2,-11.6],[-26.7,-10.8],[-27.8,-13.1],[-29.7,-11.3],[-29.4,-12],[-30.3,-12.5],[-32,-11.2],[-34.6,-10.5],[-33.4,-10.9],[-32.5,-12.9],[-33.9,-12.9],[-31.4,-14.7],[-31.7,-14],[-33.2,-13.6],[-34.4,-13],[-35.2,-14.5],[-35.7,-13.1],[-37.3,-13.4],[-37.3,-12.5],[-38.3,-11.5],[-38.6,-13.6],[-38.9,-14.5],[-37.4,-14.6],[-36.4,-15.3],[-35.5,-16.5],[-36.2,-17.1],[-35.7,-17.6],[-36,-18.9],[-34.8,-17.8],[-33.1,-16.2],[-34.5,-16.6],[-31.3,-17.6],[-30.9,-16.6],[-29.7,-17.7],[-31.7,-19.6],[-32.5,-20.5],[-31.4,-21.3],[-31.2,-22.6],[-30.1,-21.1],[-28.2,-21.2],[-27.7,-19.9],[-27,-18],[-26.5,-18.3],[-25.8,-16.9],[-24.8,-15.2],[-25.5,-14.3],[-23.8,-13.9],[-23.5,-13.3],[-22.9,-13.5],[-24.6,-20],[-25.1,-21.3],[-25.5,-23.4],[-24.5,-23.3],[-24,-25],[-24.6,-25.3],[-23.6,-25.6],[-22.6,-24.8],[-23.3,-26.1],[-21.1,-26.2],[-21.9,-24.2],[-22.3,-26.7],[-20.7,-26.3],[-21.3,-27.3],[-21.9,-28],[-22,-28.8],[-20.2,-28.3],[-19.6,-26.2],[-20,-24.1],[-20.5,-23.2],[-20,-22.5],[-21.5,-21.5],[-21.7,-20.2],[-20.9,-19.9],[-20.3,-19.9],[-20.5,-16.7],[-19.7,-16.5],[-19.3,-15.9],[-18.5,-16.1],[-17.2,-15.4],[-18.1,-17.5],[-17.2,-17.6],[-17.6,-19.9],[-17.8,-21],[-18.2,-21.5],[-17.2,-22.1],[-17.4,-23],[-18.6,-24.2],[-18.3,-24.7],[-17.3,-25.9],[-16.9,-25.7],[-16.7,-26.5],[-18.3,-28.4],[-17.3,-29],[-16.6,-30.2],[-16.3,-20],[-14.8,-20],[-13.8,-23.7],[-12.8,-24.5],[-11.5,-24.5],[-11.5,-25.4],[-11.2,-26.3],[-12.4,-25.2],[-13.4,-22.8],[-12.1,-21.6],[-11.2,-21.2],[-10.8,-22.2],[-10.2,-23.3],[-9.5,-24.3],[-9.7,-25.2],[-8.8,-24.9],[-8,-24.9],[-8.8,-25.7],[-8.6,-26.4],[-7.1,-25.4],[-7.9,-26.6],[-6.5,-26.9],[-5.9,-25.2],[-5.3,-25.6],[-5.9,-24.1],[-6.1,-23.1],[-7.9,-23.5],[-8.5,-23.1],[-9.1,-21.8],[-7,-21.5],[-6.4,-20.2],[-6.3,-19.5],[-6.4,-18.3],[-7.4,-18.3],[-8,-16.6],[-7.7,-15],[-7,-15],[-6.4,-14.6],[-5.7,-15.4],[-6.3,-13],[-5.5,-12.6],[-5.2,-11.1],[-4.2,-13],[-4.2,-18.3],[-4.6,-19],[-3.6,-18.5],[-2.8,-18.8],[-2.1,-16.5],[-1,-16.1],[-0.9,-17.5],[-0.7,-19.5],[-0.6,-21],[-0.6,-22.7],[-1,-21.9],[-2,-22.2],[-2.5,-19.6],[-4,-20.3],[-4.7,-21.5],[-3.3,-21.6],[-4.1,-22.7],[-5.2,-23.6],[-4.1,-25.4],[-5.3,-27],[-6.6,-28.3],[-7.1,-28.5],[-8.9,-28.9],[-10.1,-25.9],[-10.1,-23.7],[-9.2,-19.1],[-10.4,-17.7],[-9.9,-17],[-10.5,-14],[-11.5,-13.8],[-11.9,-13.3],[-11.6,-11.6],[-14.7,-16.6],[-13.1,-16.2],[-16.2,-13.3],[-15.5,-15],[-15.7,-17.3],[-16.2,-19.9],[-1.9,-26.4],[-0.2,-24.2],[0.4,-25.5],[1.5,-24.1],[2.8,-25.4],[2.5,-22.3],[3.9,-21.8],[4,-22.7],[5.1,-21],[5.7,-20.1],[7,-19],[7.5,-20.1],[7.1,-21],[9.7,-18.5],[10.4,-17.7],[11.5,-17.7],[12.5,-13.8],[12.4,-18.9],[12.6,-21.9],[9.1,-12.4],[8.1,-15.8],[5.3,-13.2],[3.4,-6],[2.8,-5.3],[2.2,-6.2],[3.1,-3.2],[2.3,-4],[1.5,-3.5],[1.7,-4.9],[1.3,-5.2],[2.1,-0.8],[2,1.5],[3.2,2.4],[5.1,3.1],[6.5,0],[6.5,-0.9],[8.2,3.5],[9.1,4.7],[10.8,9.6],[13,13],[16.8,-10.2],[17.8,-13.7],[19.2,-18.9],[24.2,-11.9],[-1.2,-1],[-2.1,-0.7],[-3.4,-0.5],[-4.5,-0.6],[-4.4,-1.8],[-5.4,-2.1],[-5.7,-2.8],[-6.6,-3.5],[-7.1,-4.3],[-6.4,-4.7],[-2.2,-6.6],[-3.6,-14.7],[2.8,-16.7],[1.9,-14.5],[-0.2,-14.8],[3.5,23.8],[3.5,24.7],[2.4,31.4],[4.8,32.1],[7.3,32.9]];
const p3Lusc = [[10.9,32.5],[11.2,31.6],[12.5,31.2],[10.5,31],[9.5,30.7],[8.4,31.2],[7.4,31],[6.2,30.9],[6.2,29.9],[8,29.5],[9,29.4],[10.4,29.3],[11.9,29.4],[13.2,29.2],[14.6,29.5],[16.7,29.6],[17,29.2],[17.5,28.7],[18.2,29.3],[5.3,28.5],[3.6,28.1],[4.6,27.6],[5.4,26.7],[6.8,26.9],[8.4,27.1],[9.4,27.1],[10.7,26.7],[11.6,26.4],[13.2,26.7],[15.3,26.1],[17,26.8],[19.1,27.2],[21.1,27.5],[22.2,28.2],[23.4,27.9],[24.3,27.1],[25.1,26.9],[26.6,26.4],[28.6,26.5],[23.3,26.9],[22.5,26.4],[20.6,26.1],[18.1,26.9],[17.4,25.7],[16.3,25.3],[14.6,25.6],[13.2,25.2],[11.8,25.5],[10.1,25.4],[9.6,24.5],[7,24.6],[5.3,25.6],[4.6,25.5],[2.4,25.6],[2,23.8],[3.6,23.3],[8.3,22.4],[10.5,22.6],[11.8,22.1],[13.3,21.6],[16.4,21.9],[17.1,22.9],[18.7,23.5],[19.1,24.8],[21.1,24.2],[22.5,23],[25.2,22.8],[26.9,23.6],[28.1,24.5],[29.9,25.1],[30.6,25.2],[32.4,22.5],[33.7,22.8],[34.9,21.6],[36.1,21.8],[35,21.2],[33.3,20.1],[31.4,21.3],[30.2,20],[29,19.3],[27.7,18.9],[26.1,21.4],[24.3,21.7],[22.9,21.8],[21.8,21.6],[20.8,20.2],[19.2,20.4],[17.1,19.5],[16.8,20.5],[15.5,21],[11.6,20.6],[10.5,19.9],[11.5,16.6],[12.9,16.4],[14.1,16.2],[15.2,17.3],[16.5,14.9],[17.6,14.6],[18.9,15.5],[19.6,17.5],[21.5,17.4],[22.4,17.5],[23.1,18.1],[23.9,17.7],[24.4,16.7],[25.1,17.7],[25.9,17.2],[27.4,16.5],[28.8,15.3],[30.2,15.5],[31.3,15.4],[31.8,17],[32.6,17.5],[33.3,17.4],[34.5,17.5],[35.3,18],[37.2,18.4],[40,18],[40.3,16.5],[42.9,17.7],[43.4,17.5],[35.1,15.6],[34.6,14.4],[33.7,14.6],[32.6,12.6],[31.3,12.6],[30.7,10.8],[29.6,11.5],[28.5,11],[28.3,11.5],[27.5,11.7],[26.5,12.6],[25.7,13.6],[24.2,12.6],[22.5,13.5],[21.6,12.6],[19.8,11.4],[19.5,10.2],[18,10.3],[16.4,10.6],[15.2,9.4],[14.6,7.7],[13.6,7.8],[12.2,9.8],[13.4,11.6],[12.2,11.7],[12.9,13.2],[12.1,13.8],[22.3,15.2],[20.6,14.5],[23,7.4],[21.2,9.9],[20.4,6.7],[19.3,6.2],[19.5,5.1],[20.7,5.3],[21.9,5.8],[23,5.7],[22.6,4.5],[23.8,4.4],[25.1,5.7],[26.5,4.1],[27.7,3.4],[28.6,2.2],[27.9,1.8],[26.4,0.9],[25.2,0.1],[23.8,-0.3],[23.2,0.7],[22.7,2.1],[20.9,2.8],[19,2.6],[18.4,1.9],[17.6,3.6],[18.1,4.7],[16.2,4.8],[20.1,0.8],[19.7,-0.8],[21.3,-1.4],[22.5,-2.5],[23.5,-2.5],[25.3,-1.1],[26.4,-1.2],[27.3,-2.5],[29.1,-1.6],[30.3,-0.7],[31.7,0.6],[31.9,1.8],[32.6,2.8],[33.8,1.7],[35.5,2.1],[36.2,2.7],[37.1,3.9],[38.7,3.9],[37.5,1.2],[38.8,2.3],[37.1,-0.4],[36.5,0.3],[34.8,-0.2],[33.6,-1.8],[32.4,-2.4],[31.4,-2.6],[30.5,-4.8],[29.4,-4.4],[28.2,-3.6],[26.7,-4.2],[25.7,-4.8],[23.4,-4],[24.4,-5.8],[25.3,-6],[27.2,-6.4],[28.8,-6.9],[30.3,-7.6],[31.6,-7.6],[30.8,-9],[32,-8.5],[35,-5.8],[35.4,-3.3],[34.9,-3.2],[36.8,-1.2],[38.8,-1.5],[40.2,-1.3],[40.8,-2.5],[42.4,-3.9],[41.3,-4.6],[39.5,-4.3],[38.6,-6.6],[39.4,-7.2],[39.1,-8.1],[41,-7.7],[41.6,-6.8],[42.5,-7.1],[43.2,-7.5],[41.7,-8.1],[43.5,-6.2],[44.4,-6.6],[46.2,-4.8],[46.9,-3.1],[45.1,-3],[44.1,-2.9],[43.6,-1.8],[42.1,-1],[42.9,0.6],[43.9,-0.1],[44.8,0],[46.3,0.5],[47.1,1],[47.3,-1.3],[48.5,-2.6],[49.1,-1.1],[49.6,-0.5],[48.7,1.2],[48.4,2.5],[46.2,2.9],[44,1.6],[44.2,0.2],[44.4,2.3],[42,1.9],[40.7,1.2],[41.2,-0.2],[40.2,3.2],[39.6,4.7],[41.6,4.4],[43,4.2],[44.1,5.7],[44.9,3.6],[46.7,4.8],[46.4,8.7],[45.8,8.4],[45,9.2],[42.8,7.9],[41.9,10],[40.3,10.7],[39.4,10],[38.7,10.4],[37.6,11.5],[36.7,12.5],[38.5,12.6],[39.1,11.1],[40.1,9.5],[41.2,11.3],[37.6,9.1],[36.5,9.1],[36.8,8],[38.4,6.9],[37.3,6.3],[35.8,5.8],[34.7,6.1],[31.9,6.7],[31.4,5.2],[30.7,4.3],[29.1,4.5],[27.3,5.4],[28.1,7.3],[29.9,7.4],[33.2,3],[26.5,8.8],[25.5,9],[23.6,-6],[22.5,-8.6],[22.7,-9.6],[24.5,-9.7],[26.5,-8.9],[27.8,-9.9],[29.6,-12.5],[30.1,-11.4],[31.7,-11.5],[32.7,-12.2],[31.8,-13],[33.8,-14.3],[34.8,-13.2],[34.1,-12.7],[32.2,-13.8],[30.4,-13.6],[27.8,-13.8],[25.9,-13.8],[25.5,-15.2],[27.3,-16],[28.9,-14.6],[30,-15.1],[31.3,-15.1],[32.2,-16.1],[33.3,-15.6],[35.2,-15.6],[36.4,-15.1],[38,-16.5],[39.2,-17.2],[39.5,-15.7],[40,-16.9],[40.9,-16.9],[40.9,-15.7],[42.4,-16.4],[44,-16.9],[44.8,-16.2],[45.9,-16.3],[46.9,-15.6],[47,-14.6],[44.5,-14.7],[42.6,-13.3],[45.5,-13],[46.4,-12.2],[47.7,-11],[49.1,-10],[49.9,-10.5],[50.5,-9.1],[51.1,-8.8],[51.2,-11.4],[50.8,-13.6],[50.9,-14.3],[49.2,-11.9],[48.5,-8.4],[49,-9.5],[46.9,-9.8],[45.8,-9.4],[43.3,-9.4],[44.3,-10.2],[42.6,-11],[41.2,-10.5],[39.6,-10.2],[38.7,-12.5],[39,-14.2],[39.5,-13.3],[40.5,-13.9],[36.4,-13.4],[35.5,-12.3],[34.3,-13.1],[32.3,-11.7],[29.5,-11.8],[28.4,-11.1],[26.5,-10.5],[26.6,-16.8],[28.3,-17.5],[29.6,-17.8],[31.7,-19.3],[33.4,-19.6],[34.7,-19.4],[34.4,-19.9],[35.1,-19.8],[35.3,-20.7],[36.6,-18.9],[37.5,-19.2],[38.8,-19.9],[38.3,-22.8],[39.6,-22],[40.4,-22.8],[40.7,-23.1],[41.6,-22],[40.1,-24.4],[39.1,-23.4],[37.7,-23],[36.9,-22.1],[35.1,-21.1],[34.7,-21.1],[32.4,-21.2],[41.2,-19.6],[42.6,-19.6],[43.6,-17.8],[43.3,-19.3],[44.3,-18.8],[44.8,-18.5],[45.8,-18.3],[45.3,-20.2],[46.2,-19.1],[47.2,-18.9],[47.7,-18.9],[47.3,-17.7],[41.6,-20.2],[42.5,-20.3],[12.4,-8.4],[13.7,-8.7],[14.1,-8.6],[15.3,-7.6],[18.1,-7.5],[16.6,-10.8],[15.6,-11.1],[13.4,-12.1],[11.5,-14.2],[12,-14.6],[11,-16.3],[11.3,-17.8],[12.4,-19.3],[12.4,-20.1],[13.4,-20.2],[14.5,-19.7],[15.3,-18.8],[17,-19.1],[16.7,-18],[17.6,-16.7],[16.9,-15.3],[15.4,-14.9],[13,-15.1],[17.8,-16],[18.1,-20.1],[18.4,-22.2],[17.2,-22.7],[16.6,-22.8],[14.5,-22.2],[17.7,-21.6],[20.7,-18],[21.3,-17.9],[21.9,-13.7],[21.2,-19.8],[20.9,-20.9],[18.5,-11.4],[9.8,-19.2],[8.9,-20.7],[7.6,-21.1],[6.1,-21.6],[5.4,-22.4],[2.6,-21.2],[1.3,-21.6],[1.7,-22],[2.5,-22.3],[-1.2,-26.7],[8.4,-13],[9,-13.4],[5.5,-6.8],[5.6,-5.6],[3.3,-3],[3.1,-5],[2.4,-5.3],[0.3,-1.7],[0.5,-2.3],[-0.2,-5.9],[-0.3,-6.8],[0.4,0.4],[-0.1,-0.3],[1,-0.5],[-0.3,0.7],[0.7,2.7],[0.8,2],[3.3,0.1],[4.5,0.6],[5.3,1.3],[6.5,1.1],[7.5,1.8],[7.7,2.3],[8.4,1.9],[9,3],[7.5,3],[5.4,2.9],[8.3,6.4],[-5.9,-0.3],[-6.1,-1.3],[-12.4,-16.4],[-12.3,-16.3],[-14.4,12.6],[-11.7,8.2],[-23.4,2.5],[-23.3,-0.6],[-37.9,5.3],[-37.9,19.8],[-25,22.5],[-23.8,21.9],[-21.5,20.6],[-5,-19.9],[-4.9,-10.4]];
const p3XTicks = [-40,-20,0,20,40];
const p3YTicks = [-30,-20,-10,0,10,20,30];

const seriesNames = ['LUAD','LUSC'];
const seriesColors = ['#ff0000','#0000ff'];

const NS = 'http://www.w3.org/2000/svg';
const svg = document.getElementById('fig');
function mk(tag, attrs, parent){
  const e = document.createElementNS(NS, tag);
  for (const k in attrs) e.setAttribute(k, attrs[k]);
  (parent||svg).appendChild(e);
  return e;
}
function fmt(v){ return v < 0 ? '\u2212' + Math.abs(v) : String(v); }

function drawPanel(idx, box, dom, xTicks, yTicks, luad, lusc){
  const g = mk('g', {});
  
  
  const sx = v => box.l + (v - dom.x0) / (dom.x1 - dom.x0) * (box.r - box.l);
  const sy = v => box.b - (v - dom.y0) / (dom.y1 - dom.y0) * (box.b - box.t);
  // grid
  xTicks.forEach(t => {
    const ln = mk('line', {x1:sx(t), x2:sx(t), y1:box.t, y2:box.b, stroke:'#e6e6e6', 'stroke-width':1.6}, g);
    
    
  });
  yTicks.forEach(t => {
    const ln = mk('line', {x1:box.l, x2:box.r, y1:sy(t), y2:sy(t), stroke:'#e6e6e6', 'stroke-width':1.6}, g);
    
    
  });
  // points
  const pts = mk('g', {}, g);
  
  
  [luad, lusc].forEach((arr, si) => {
    arr.forEach(p => {
      const c = mk('circle', {cx:sx(p[0]), cy:sy(p[1]), r:6.3, fill:seriesColors[si], 'fill-opacity':0.6, stroke:'#fff', 'stroke-width':1.3}, pts);
      
      
    });
  });
  // frame
  const fr = mk('rect', {x:box.l, y:box.t, width:box.r-box.l, height:box.b-box.t, fill:'none', stroke:'#000', 'stroke-width':2}, g);
  
  
  // ticks
  xTicks.forEach(t => {
    const tk = mk('line', {x1:sx(t), x2:sx(t), y1:box.b, y2:box.b+8, stroke:'#000', 'stroke-width':1.6}, g);
    
    
    const tx = mk('text', {x:sx(t), y:box.b+28, 'text-anchor':'middle', 'font-family':'DejaVu Sans, Liberation Sans, sans-serif', 'font-size':21}, g);
    tx.textContent = fmt(t);
    
    
  });
  yTicks.forEach(t => {
    const tk = mk('line', {x1:box.l-8, x2:box.l, y1:sy(t), y2:sy(t), stroke:'#000', 'stroke-width':1.6}, g);
    
    
    const tx = mk('text', {x:box.l-12, y:sy(t)+7.5, 'text-anchor':'end', 'font-family':'DejaVu Sans, Liberation Sans, sans-serif', 'font-size':21}, g);
    tx.textContent = fmt(t);
    
    
  });
  // title
  const ti = mk('text', {x:(box.l+box.r)/2, y:107, 'text-anchor':'middle', 'font-family':'DejaVu Sans, Liberation Sans, sans-serif', 'font-size':25}, g);
  ti.textContent = 't-SNE Visualization';
  
  
  // legend
  const lg = mk('g', {}, g);
  
  
  const lx = box.r - 159, ly = box.t + 13;
  mk('rect', {x:lx, y:ly, width:146, height:75, rx:4, fill:'#fff', 'fill-opacity':0.8, stroke:'#d6d6d6', 'stroke-width':1.5}, lg);
  seriesNames.forEach((n, i) => {
    const ent = mk('g', {}, lg);
    
    
    mk('circle', {cx:lx+32, cy:ly+19+i*34, r:6.3, fill:seriesColors[i], 'fill-opacity':0.6, stroke:'#fff', 'stroke-width':1.3}, ent);
    const tt = mk('text', {x:lx+74, y:ly+29+i*34, 'font-family':'DejaVu Sans, Liberation Sans, sans-serif', 'font-size':27}, ent);
    tt.textContent = n;
  });
}

drawPanel(1, {l:151.7, r:1084, t:116, b:858}, {x0:-34.1, x1:45.2, y0:-25.2, y1:25.3}, p1XTicks, p1YTicks, p1Luad, p1Lusc);
drawPanel(2, {l:1290, r:2222.5, t:116, b:858}, {x0:-66.33, x1:89.9, y0:-34.0, y1:33.9}, p2XTicks, p2YTicks, p2Luad, p2Lusc);
drawPanel(3, {l:2428.7, r:3358.1, t:116, b:858}, {x0:-55.3, x1:56.2, y0:-33.4, y1:36.1}, p3XTicks, p3YTicks, p3Luad, p3Lusc);
</script>
</body></html>
